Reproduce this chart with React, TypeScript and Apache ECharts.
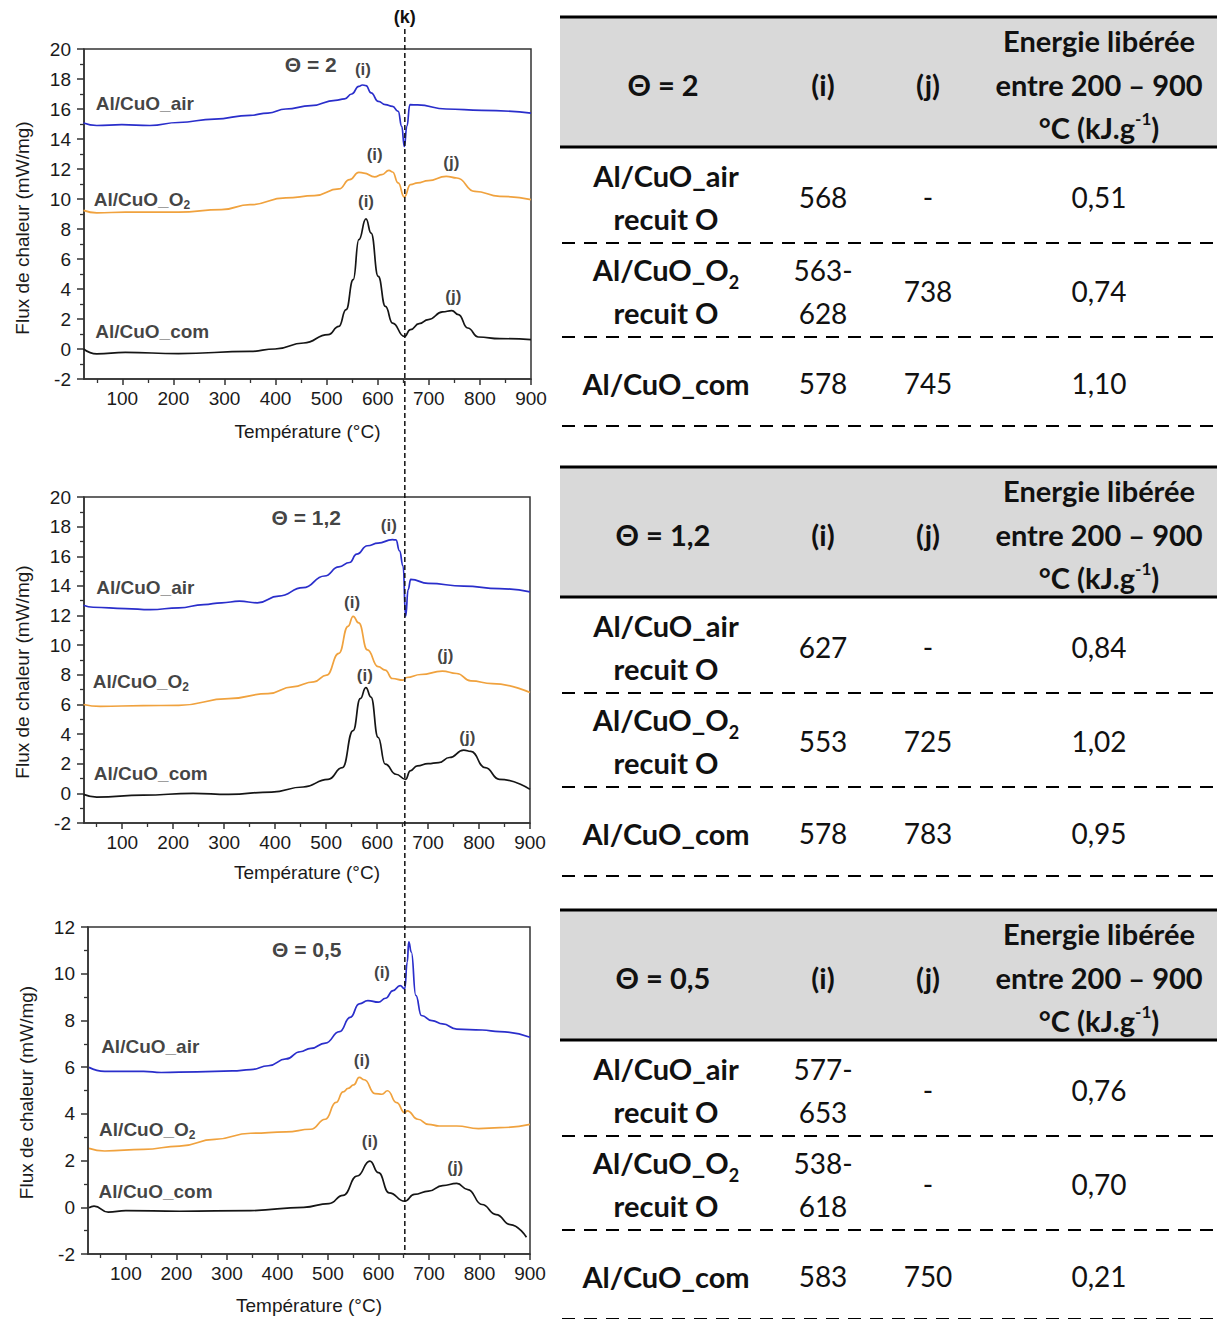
import React, { useEffect, useRef } from "react";
import * as echarts from "echarts";

const PAGE_W = 1217;
const PAGE_H = 1319;

// ---------- axes ----------
const X_MIN = 25;
const X_MAX = 900;
const X_MAJOR = [100, 200, 300, 400, 500, 600, 700, 800, 900];
const X_MINOR = [50, 150, 250, 350, 450, 550, 650, 750, 850];
const Y_MIN = -2;
const PANEL_YMAX = [20, 20, 12];
const K_TEMP = 653;

// ---------- DSC curves [temperature °C, heat flow mW/mg] ----------
const T2_AIR = [[24,15.07],[50,14.9],[99,14.96],[154,14.9],[210,15.1],[280,15.33],[350,15.58],[385,15.73],[420,16.0],[469,16.22],[517,16.58],[535,16.67],[549,17.0],[563,17.51],[570,17.6],[577,17.56],[587,17.07],[601,16.51],[615,16.29],[629,16.18],[640,15.84],[647,14.84],[652,13.5],[657,14.84],[663,16.29],[678,16.27],[734,16.0],[804,15.91],[900,15.73]];
const T2_O2 = [[24,9.24],[50,9.07],[106,9.13],[210,9.13],[294,9.29],[350,9.62],[420,10.07],[476,10.22],[524,10.67],[545,11.29],[563,11.78],[573,11.73],[594,11.47],[608,11.62],[622,11.91],[629,11.8],[640,11.07],[652,10.13],[664,10.96],[678,11.07],[699,11.22],[734,11.51],[755,11.4],[790,10.51],[839,10.18],[900,9.96]];
const T2_COM = [[24,0.0],[50,-0.33],[106,-0.22],[210,-0.31],[350,-0.16],[399,0.0],[455,0.4],[503,0.96],[524,1.51],[538,2.62],[552,4.62],[563,7.29],[577,8.67],[587,7.73],[601,4.84],[615,2.84],[629,1.73],[652,0.84],[664,1.29],[681,1.69],[699,1.96],[727,2.47],[745,2.56],[758,2.29],[776,1.4],[797,0.8],[839,0.69],[900,0.62]];

const T12_AIR = [[24,12.7],[43,12.56],[106,12.47],[155,12.4],[211,12.52],[260,12.74],[295,12.86],[330,12.97],[365,12.86],[407,13.31],[455,13.88],[497,14.67],[525,15.28],[546,15.58],[560,16.14],[581,16.71],[602,16.89],[630,17.12],[637,17.1],[644,16.37],[651,15.35],[656,11.95],[661,13.76],[666,14.44],[700,14.17],[770,13.99],[840,13.81],[900,13.6]];
const T12_O2 = [[24,6.0],[57,5.87],[141,5.92],[211,5.94],[309,6.39],[386,6.73],[434,7.19],[476,7.53],[501,7.98],[525,9.45],[543,11.27],[553,11.95],[564,11.5],[581,9.68],[602,8.55],[616,8.32],[630,7.75],[651,7.64],[658,7.82],[686,8.02],[728,8.25],[756,8.09],[784,7.59],[826,7.41],[900,6.8]];
const T12_COM = [[24,-0.07],[50,-0.25],[141,-0.12],[239,0.0],[309,-0.07],[393,0.09],[455,0.43],[504,0.95],[532,1.74],[553,4.24],[567,6.39],[578,7.14],[588,6.5],[602,3.78],[616,1.97],[637,1.29],[656,0.95],[665,1.52],[679,1.86],[700,2.01],[721,2.08],[742,2.42],[770,2.92],[784,2.83],[812,1.74],[840,0.95],[900,0.27]];

const T05_AIR = [[27,5.99],[58,5.82],[135,5.82],[170,5.77],[241,5.8],[311,5.84],[347,5.89],[382,6.06],[417,6.35],[445,6.66],[466,6.8],[495,7.03],[523,7.52],[544,8.13],[562,8.71],[579,8.85],[600,8.78],[614,8.95],[629,9.28],[643,9.49],[652,9.35],[657,10.5],[660,11.36],[665,10.93],[674,9.07],[685,8.21],[706,7.99],[727,7.85],[755,7.63],[805,7.59],[840,7.52],[900,7.28]];
const T05_O2 = [[27,2.52],[58,2.41],[135,2.48],[206,2.62],[276,2.91],[347,3.17],[417,3.23],[466,3.34],[495,3.77],[516,4.49],[530,4.94],[540,5.09],[551,5.24],[562,5.56],[572,5.46],[593,4.87],[607,4.84],[618,4.99],[636,4.48],[652,4.05],[657,4.13],[678,3.77],[699,3.55],[720,3.48],[755,3.48],[798,3.37],[840,3.41],[900,3.55]];
const T05_COM = [[27,-0.02],[37,0.05],[65,-0.21],[100,-0.14],[206,-0.17],[347,-0.14],[452,0.0],[502,0.16],[530,0.51],[558,1.34],[583,1.98],[600,1.48],[621,0.62],[652,0.26],[671,0.55],[699,0.69],[727,0.93],[755,1.02],[777,0.76],[805,0.12],[833,-0.31],[861,-0.74],[893,-1.28]];

const PANEL_SERIES = [
  [T2_AIR, T2_O2, T2_COM],
  [T12_AIR, T12_O2, T12_COM],
  [T05_AIR, T05_O2, T05_COM],
];

const SERIES_NAMES = ["Al/CuO_air", "Al/CuO_O2", "Al/CuO_com"];
const SERIES_COLORS = ["#2a2ecb", "#f0a23e", "#151515"];
const PANEL_THETA = ["Θ = 2", "Θ = 1,2", "Θ = 0,5"];

// annotation anchors in data coordinates
const THETA_AT = [[469, 18.95], [461, 18.64], [458, 11.04]];
const NAME_AT = [
  [[47, 16.4], [43, 9.96], [46, 1.18]],
  [[48, 13.88], [41, 7.53], [43, 1.33]],
  [[50, 6.89], [46, 3.34], [45, 0.69]],
];
const PEAK_AT = [
  [[571, 18.62, "(i)"], [594, 13.0, "(i)"], [744, 12.44, "(j)"], [577, 9.84, "(i)"], [748, 3.51, "(j)"]],
  [[623, 18.07, "(i)"], [551, 12.86, "(i)"], [734, 9.3, "(j)"], [576, 7.98, "(i)"], [777, 3.78, "(j)"]],
  [[607, 10.07, "(i)"], [567, 6.27, "(i)"], [583, 2.8, "(i)"], [752, 1.69, "(j)"]],
];

// ---------- tables ----------
const TABLE_THETA = ["Θ = 2", "Θ = 1,2", "Θ = 0,5"];
const TABLE_HEAD = ["(i)", "(j)"];
const ENERGY_HEAD = ["Energie libérée", "entre 200 – 900"];
const ENERGY_UNIT = ["°C (kJ.g", "-1", ")"];
const ROW_NAMES = ["Al/CuO_air", "Al/CuO_O2", "Al/CuO_com"];
const ROW_SUFFIX = ["recuit O", "recuit O", ""];
const PEAK_I = [["568", "563-\n628", "578"], ["627", "553", "578"], ["577-\n653", "538-\n618", "583"]];
const PEAK_J = [["-", "738", "745"], ["-", "725", "783"], ["-", "-", "750"]];
const ENERGY = [["0,51", "0,74", "1,10"], ["0,84", "1,02", "0,95"], ["0,76", "0,70", "0,21"]];

// ---------- layout ----------
const GRIDS = [
  { left: 84, top: 49, width: 447, height: 330, nameGapX: 43, nameShift: 28 },
  { left: 84, top: 497, width: 446, height: 326, nameGapX: 40, nameShift: 24 },
  { left: 88, top: 927, width: 442, height: 327, nameGapX: 42, nameShift: 4 },
];
const TABLE_TOPS = [17, 467, 910];
const TABLE_L = 560;
const TABLE_R = 1217;
const COL_X = [666, 823, 928, 1099];

const FONT_CHART = "'Liberation Sans', Arial, sans-serif";
const FONT_TABLE = "Lato, Carlito, 'Open Sans', sans-serif";
const AXIS_COLOR = "#333";
const TEXT_COLOR = "#1a1a1a";

function chartNameMarkup(n: string) {
  return n.endsWith("O2") ? `{b|${n.slice(0, -1)}}{s|2}` : `{b|${n}}`;
}

function buildOption() {
  const xAxes: any[] = [];
  const xMinor: any[] = [];
  const yAxes: any[] = [];
  const series: any[] = [];

  GRIDS.forEach((g, i) => {
    xAxes.push({
      type: "value",
      gridIndex: i,
      position: "bottom",
      min: X_MIN,
      max: X_MAX,
      axisLine: { show: true, onZero: false, lineStyle: { color: AXIS_COLOR, width: 1.5 } },
      axisTick: { show: true, customValues: X_MAJOR, length: 6, lineStyle: { color: AXIS_COLOR, width: 1.5 } },
      axisLabel: { show: true, customValues: X_MAJOR, margin: 10, fontFamily: FONT_CHART, fontSize: 19, color: TEXT_COLOR },
      splitLine: { show: false },
      name: "Température (°C)",
      nameLocation: "middle",
      nameGap: g.nameGapX,
      nameTextStyle: { fontFamily: FONT_CHART, fontSize: 19, color: TEXT_COLOR },
    });
    xMinor.push({
      type: "value",
      gridIndex: i,
      position: "bottom",
      min: X_MIN,
      max: X_MAX,
      axisLine: { show: false, onZero: false },
      axisTick: { show: true, customValues: X_MINOR, length: 4, lineStyle: { color: AXIS_COLOR, width: 1.3 } },
      axisLabel: { show: false },
      splitLine: { show: false },
    });
    yAxes.push({
      type: "value",
      gridIndex: i,
      min: Y_MIN,
      max: PANEL_YMAX[i],
      interval: 2,
      axisLine: { show: true, onZero: false, lineStyle: { color: AXIS_COLOR, width: 1.5 } },
      axisTick: { show: true, length: 7, lineStyle: { color: AXIS_COLOR, width: 1.5 } },
      minorTick: { show: true, splitNumber: 2, length: 4, lineStyle: { color: AXIS_COLOR, width: 1.3 } },
      axisLabel: { show: true, margin: 13, fontFamily: FONT_CHART, fontSize: 19, color: TEXT_COLOR, showMinLabel: true, showMaxLabel: true },
      splitLine: { show: false },
      minorSplitLine: { show: false },
      name: "Flux de chaleur (mW/mg)",
      nameLocation: "middle",
      nameRotate: 90,
      nameGap: 52,
      nameTextStyle: { fontFamily: FONT_CHART, fontSize: 19, color: TEXT_COLOR, padding: [0, g.nameShift, 0, 0] },
    });

    PANEL_SERIES[i].forEach((d, s) => {
      series.push({
        type: "line",
        name: `${PANEL_THETA[i]} ${SERIES_NAMES[s]}`,
        xAxisIndex: i,
        yAxisIndex: i,
        data: d,
        showSymbol: false,
        symbol: "none",
        smooth: 0.5,
        smoothMonotone: "x",
        silent: true,
        z: 3,
        lineStyle: { color: SERIES_COLORS[s], width: 1.7 },
      });
    });

    // series names (left-aligned)
    series.push({
      type: "scatter",
      xAxisIndex: i,
      yAxisIndex: i,
      symbolSize: 1,
      silent: true,
      clip: false,
      z: 6,
      itemStyle: { color: "rgba(0,0,0,0)" },
      data: NAME_AT[i].map((p, s) => ({ name: SERIES_NAMES[s], value: p })),
      label: {
        show: true,
        position: "right",
        distance: 0,
        formatter: (p: any) => chartNameMarkup(p.name),
        rich: {
          b: { fontFamily: FONT_CHART, fontWeight: "bold", fontSize: 19, lineHeight: 23, color: "#111" },
          s: { fontFamily: FONT_CHART, fontWeight: "bold", fontSize: 12, lineHeight: 12, verticalAlign: "bottom", color: "#111" },
        },
      },
    });
    // theta + peak labels (centered)
    series.push({
      type: "scatter",
      xAxisIndex: i,
      yAxisIndex: i,
      symbolSize: 1,
      silent: true,
      clip: false,
      z: 6,
      itemStyle: { color: "rgba(0,0,0,0)" },
      data: [
        { name: PANEL_THETA[i], value: THETA_AT[i], label: { fontSize: 21 } },
        ...PEAK_AT[i].map((p) => ({ name: p[2], value: [p[0], p[1]] })),
      ],
      label: {
        show: true,
        position: "inside",
        formatter: "{b}",
        fontFamily: FONT_CHART,
        fontWeight: "bold",
        fontSize: 17,
        color: "#111",
      },
    });
  });

  return {
    animation: false,
    backgroundColor: "#ffffff",
    grid: GRIDS.map((g) => ({
      left: g.left,
      top: g.top,
      width: g.width,
      height: g.height,
      show: true,
      borderColor: AXIS_COLOR,
      borderWidth: 1.5,
      backgroundColor: "rgba(0,0,0,0)",
      containLabel: false,
    })),
    xAxis: [...xAxes, ...xMinor],
    yAxis: yAxes,
    series,
  };
}

function tableText(x: number, y: number, text: string, opts: any = {}) {
  return {
    type: "text",
    x,
    y,
    silent: true,
    z: 10,
    style: {
      text,
      fill: "#111",
      fontFamily: FONT_TABLE,
      fontSize: opts.bold ? 29 : 28,
      fontWeight: opts.bold ? "bold" : "normal",
      lineHeight: 43,
      align: "center",
      verticalAlign: "middle",
      textAlign: "center",
      textVerticalAlign: "middle",
      rich: opts.rich,
    },
  };
}

const TABLE_RICH = {
  b: { fontFamily: FONT_TABLE, fontWeight: "bold", fontSize: 29, lineHeight: 43, fill: "#111", color: "#111" },
  s: { fontFamily: FONT_TABLE, fontWeight: "bold", fontSize: 18, lineHeight: 28, verticalAlign: "bottom", fill: "#111", color: "#111" },
  n: { fontFamily: FONT_TABLE, fontWeight: "bold", fontSize: 29, lineHeight: 34, fill: "#111", color: "#111" },
  sup: { fontFamily: FONT_TABLE, fontWeight: "bold", fontSize: 17, lineHeight: 24, verticalAlign: "top", fill: "#111", color: "#111" },
};

function rowMarkup(name: string, suffix: string) {
  const first = name.endsWith("O2") ? `{b|${name.slice(0, -1)}}{s|2}` : `{b|${name}}`;
  return suffix ? `${first}\n{b|${suffix}}` : first;
}

function buildTables() {
  const els: any[] = [];
  TABLE_TOPS.forEach((top, t) => {
    els.push({ type: "rect", silent: true, z: 8, shape: { x: TABLE_L, y: top, width: TABLE_R - TABLE_L, height: 130 }, style: { fill: "#d9d9d9" } });
    [top, top + 130].forEach((y) =>
      els.push({ type: "line", silent: true, z: 9, shape: { x1: TABLE_L, y1: y, x2: TABLE_R, y2: y }, style: { stroke: "#000", lineWidth: 3 } })
    );
    [top + 226, top + 320, top + 409].forEach((y) =>
      els.push({ type: "line", silent: true, z: 9, shape: { x1: TABLE_L + 2, y1: y, x2: TABLE_R, y2: y }, style: { stroke: "#000", lineWidth: 2.2, lineDash: [13, 9] } })
    );
    // header
    els.push(tableText(COL_X[0] - 3, top + 67, TABLE_THETA[t], { bold: true }));
    els.push(tableText(COL_X[1], top + 67, TABLE_HEAD[0], { bold: true }));
    els.push(tableText(COL_X[2], top + 67, TABLE_HEAD[1], { bold: true }));
    els.push(tableText(COL_X[3], top + 23, ENERGY_HEAD[0], { bold: true }));
    els.push(tableText(COL_X[3], top + 67, ENERGY_HEAD[1], { bold: true }));
    els.push(
      tableText(COL_X[3], top + 110, `{n|${ENERGY_UNIT[0]}}{sup|${ENERGY_UNIT[1]}}{n|${ENERGY_UNIT[2]}}`, {
        bold: true,
        rich: TABLE_RICH,
      })
    );
    // rows
    const rowY = [180, 274, 366];
    ROW_NAMES.forEach((name, r) => {
      const y = top + rowY[r];
      els.push(tableText(COL_X[0], y, rowMarkup(name, ROW_SUFFIX[r]), { bold: true, rich: TABLE_RICH }));
      els.push(tableText(COL_X[1], y, PEAK_I[t][r]));
      els.push(tableText(COL_X[2], y, PEAK_J[t][r]));
      els.push(tableText(COL_X[3], y, ENERGY[t][r]));
    });
  });
  return els;
}

export default function App() {
  const ref = useRef<HTMLDivElement>(null);
  useEffect(() => {
    if (!ref.current) return;
    const chart = echarts.init(ref.current, null, { renderer: "svg", width: PAGE_W, height: PAGE_H });
    chart.setOption(buildOption() as any);
    const kx = chart.convertToPixel({ xAxisIndex: 0 } as any, K_TEMP) as unknown as number;
    const yBottom = chart.convertToPixel({ yAxisIndex: 2 } as any, Y_MIN) as unknown as number;
    const elements = [
      ...buildTables(),
      {
        type: "line",
        silent: true,
        z: 20,
        shape: { x1: kx, y1: 29, x2: kx, y2: yBottom },
        style: { stroke: "#111", lineWidth: 1.5, lineDash: [5, 3] },
      },
      {
        type: "text",
        x: kx,
        y: 17,
        silent: true,
        z: 20,
        style: {
          text: "(k)",
          fill: "#111",
          fontFamily: FONT_CHART,
          fontWeight: "bold",
          fontSize: 18,
          align: "center",
          verticalAlign: "middle",
          textAlign: "center",
          textVerticalAlign: "middle",
        },
      },
    ];
    chart.setOption({ graphic: { elements } } as any);
    return () => chart.dispose();
  }, []);
  return (
    <div
      ref={ref}
      style={{ position: "absolute", left: 0, top: 0, width: PAGE_W, height: PAGE_H, background: "#fff" }}
    />
  );
}
